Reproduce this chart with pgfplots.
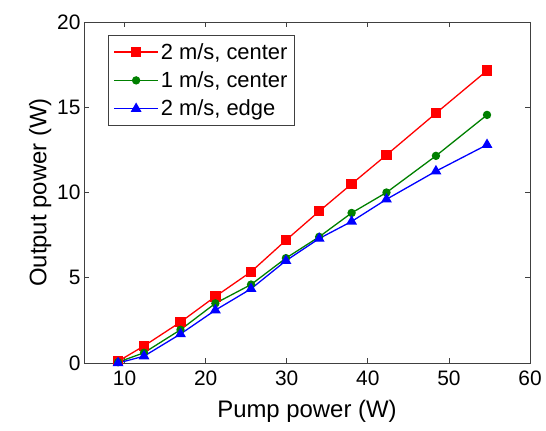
\documentclass[border=0pt]{standalone}
\usepackage{fontspec}
\setmainfont{Liberation Sans}
\usepackage{pgfplots}
\pgfplotsset{compat=1.18}
\definecolor{mred}{RGB}{255,0,0}
\definecolor{mgreen}{RGB}{0,128,0}
\definecolor{mblue}{RGB}{0,0,255}
\begin{document}
\begin{tikzpicture}
\begin{axis}[
  scale only axis,
  width=446bp, height=341bp,
  xmin=5, xmax=60, ymin=0, ymax=20,
  xtick={10,20,...,60}, ytick={0,5,...,20},
  tick align=inside,
  major tick length=5bp,
  axis line style={black!75, line width=0.8bp},
  every tick/.style={black!75, line width=0.8bp},
  /pgf/number format/assume math mode=true,
  ticklabel style={font=\fontsize{21}{23}\selectfont},
  xticklabel style={yshift=-4bp},
  xlabel={Pump power (W)},
  ylabel={Output power (W)},
  label style={font=\fontsize{24}{27}\selectfont},
  xlabel style={yshift=-8bp},
  ylabel style={yshift=-1bp},
  legend style={at={(0.054,0.962)}, anchor=north west,
    font=\fontsize{22}{24}\selectfont, draw=black!75, line width=0.8bp,
    inner xsep=5bp, inner ysep=6bp, row sep=7bp, cells={anchor=west}},
  legend image code/.code={%
    \draw[mark repeat=2,mark phase=2,line width=1.3bp] plot coordinates {(0bp,0bp)(22bp,0bp)(44bp,0bp)};},
  every axis plot/.append style={line width=1.3bp},
]
\coordinate (O) at (rel axis cs:0,0);
\addplot[mred, mark=square*, mark size=4.5bp, mark options={solid}] coordinates {
(9.2,0.1) (12.4,1.0) (16.9,2.4) (21.2,3.9) (25.6,5.35) (29.9,7.2) (34.0,8.9) (38.0,10.5) (42.3,12.2) (48.4,14.65) (54.7,17.15)
};
\addlegendentry{2 m/s, center}
\addplot[mgreen, mark=*, mark size=3.5bp] coordinates {
(9.2,0.05) (12.4,0.6) (16.9,1.95) (21.2,3.5) (25.6,4.6) (29.9,6.15) (34.0,7.4) (38.0,8.8) (42.3,10.0) (48.4,12.15) (54.7,14.55)
};
\addlegendentry{1 m/s, center}
\addplot[mblue, mark=triangle*, mark size=5bp] coordinates {
(9.2,0.0) (12.4,0.4) (16.9,1.7) (21.2,3.1) (25.6,4.35) (29.9,6.0) (34.0,7.3) (38.0,8.3) (42.3,9.6) (48.4,11.25) (54.7,12.8)
};
\addlegendentry{2 m/s, edge}
\end{axis}
\path ([shift={(-84bp,-68bp)}]O) rectangle ++(546bp,431bp);
\end{tikzpicture}
\end{document}
